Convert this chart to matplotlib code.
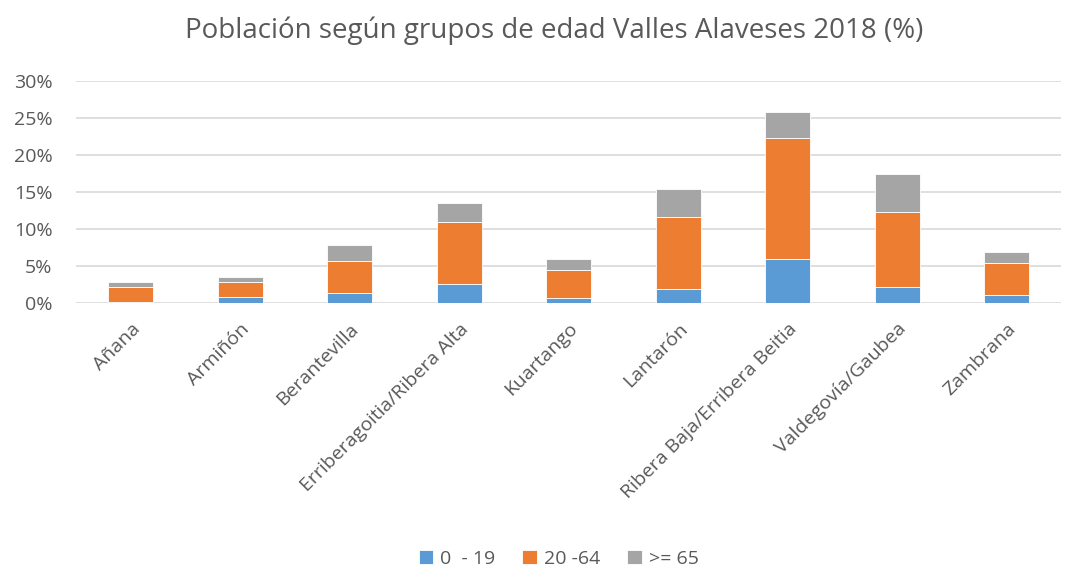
import matplotlib.pyplot as plt
import numpy as np
from matplotlib.ticker import PercentFormatter

plt.rcParams['font.family'] = ['Open Sans', 'DejaVu Sans']

municipios = ["Añana", "Armiñón", "Berantevilla", "Erriberagoitia/Ribera Alta",
              "Kuartango", "Lantarón", "Ribera Baja/Erribera Beitia",
              "Valdegovía/Gaubea", "Zambrana"]
edad_0_19 = [0.2, 0.8, 1.35, 2.55, 0.7, 1.95, 6.0, 2.1, 1.05]
edad_20_64 = [1.9, 2.1, 4.35, 8.45, 3.8, 9.65, 16.35, 10.25, 4.4]
edad_65 = [0.8, 0.6, 2.2, 2.55, 1.45, 3.8, 3.5, 5.15, 1.45]

series = [("0  - 19", edad_0_19, "#5B9BD5"),
          ("20 -64", edad_20_64, "#ED7D31"),
          (">= 65", edad_65, "#A5A5A5")]

gris = "#595959"
fig = plt.figure(figsize=(10.7, 5.75), dpi=100)
ax = fig.add_axes([0.071, 0.473, 0.921, 0.386])

x = np.arange(len(municipios))
bottom = np.zeros(len(municipios))
for nombre, vals, color in series:
    vals = np.array(vals) / 100
    ax.bar(x, vals, 0.41, bottom=bottom, color=color, label=nombre,
           edgecolor="white", linewidth=0.6, zorder=3)
    bottom += vals

ax.set_xlim(-0.5, len(municipios) - 0.5)
ax.set_ylim(0, 0.30)
ax.set_yticks(np.arange(0, 0.31, 0.05))
ax.yaxis.set_major_formatter(PercentFormatter(1.0, decimals=0))
ax.grid(axis="y", color="#D9D9D9", linewidth=1.2, zorder=0)
for s in ax.spines.values():
    s.set_visible(False)
ax.tick_params(axis="both", length=0, colors=gris, labelsize=14)
ax.tick_params(axis="y", pad=17)
ax.set_xticks(x)
ax.set_xticklabels(municipios, rotation=45, ha="right", rotation_mode="anchor")
ax.tick_params(axis="x", pad=12)

fig.suptitle("Población según grupos de edad Valles Alaveses 2018 (%)",
             x=0.518, y=0.972, fontsize=20, color=gris)

fig.legend(loc="lower center", bbox_to_anchor=(0.522, -0.018), ncol=3,
           frameon=False, fontsize=14, labelcolor=gris, handlelength=0.75,
           handleheight=0.75, handletextpad=0.35, columnspacing=1.4)

fig.savefig("out.png", dpi=100)
